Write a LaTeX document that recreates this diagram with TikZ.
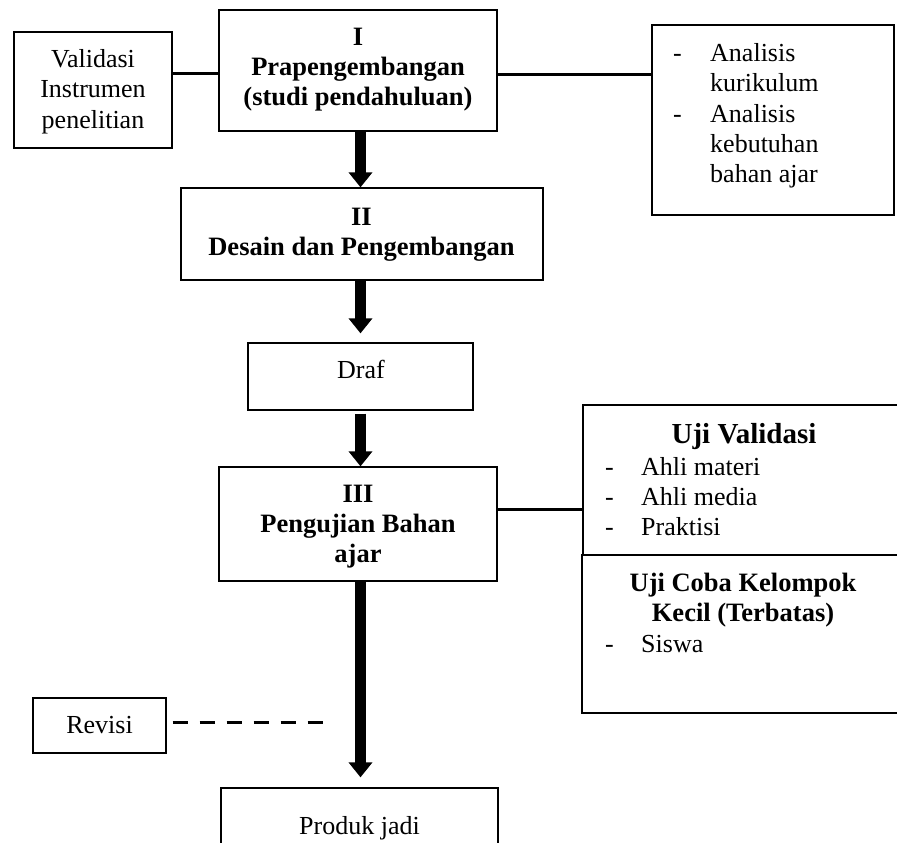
\documentclass[tikz,border=0pt]{standalone}
\usepackage{fontspec}
\setmainfont{Liberation Serif}
\usetikzlibrary{arrows.meta}
\begin{document}
\begin{tikzpicture}[x=1pt,y=-1pt,
  box/.style={draw, line width=1.3pt, inner sep=0pt},
  txt/.style={inner sep=0pt, font=\fontsize{26}{30}\selectfont},
  btxt/.style={inner sep=0pt, font=\fontsize{26.5}{30}\selectfont\bfseries},
  bigtxt/.style={inner sep=0pt, font=\fontsize{29}{33}\selectfont\bfseries},
  bigarrow/.style={line width=10.5pt, -{Triangle[width=23pt,length=15pt]}},
  link/.style={line width=3pt}]
\useasboundingbox (0,0) rectangle (897,843);
% boxes
\node[box, minimum width=158, minimum height=116] (val) at (93,90) {};
\node[box, minimum width=278, minimum height=121] (p1) at (358,70.5) {};
\node[box, minimum width=242, minimum height=190] (ana) at (773,120) {};
\node[box, minimum width=362, minimum height=92] (p2) at (362,234) {};
\node[box, minimum width=225, minimum height=67] (draf) at (360.5,376.5) {};
\node[box, minimum width=278, minimum height=114] (p3) at (358,524) {};
\node[box, minimum width=322, minimum height=150] (ujiv) at (744,480) {};
\node[box, minimum width=323, minimum height=158] (ujic) at (743.5,634) {};
\node[box, minimum width=133, minimum height=55] (rev) at (99.5,725.5) {};
\node[box, minimum width=277, minimum height=72] (produk) at (359.5,824) {};
% texts (multi-line nodes are anchored at the baseline of their last line)
\node[txt, align=center, anchor=base] (valt) at (93,128) {Validasi\\Instrumen\\penelitian};
\node[btxt, align=center, anchor=base] (p1t) at (358,106) {I\\Prapengembangan\\(studi pendahuluan)};
\node[txt, anchor=base west] (anad1) at (673,62) {-};
\node[txt, anchor=base west, align=left] (anat1) at (710,92) {Analisis\\kurikulum};
\node[txt, anchor=base west] (anad2) at (673,122) {-};
\node[txt, anchor=base west, align=left] (anat2) at (710,182) {Analisis\\kebutuhan\\bahan ajar};
\node[btxt, align=center, anchor=base] (p2t) at (361.5,255) {II\\Desain dan Pengembangan};
\node[txt, anchor=base] (draft) at (361,378) {Draf};
\node[btxt, align=center, anchor=base] (p3t) at (358,562) {III\\Pengujian Bahan\\ajar};
\node[bigtxt, anchor=base] (ujivt) at (744,443) {Uji Validasi};
\node[txt, anchor=base west] (uvd1) at (605,475) {-};
\node[txt, anchor=base west] (uvt1) at (641,475) {Ahli materi};
\node[txt, anchor=base west] (uvd2) at (605,505) {-};
\node[txt, anchor=base west] (uvt2) at (641,505) {Ahli media};
\node[txt, anchor=base west] (uvd3) at (605,535) {-};
\node[txt, anchor=base west] (uvt3) at (641,535) {Praktisi};
\node[btxt, align=center, anchor=base] (ujict) at (743,621) {Uji Coba Kelompok\\Kecil (Terbatas)};
\node[txt, anchor=base west] (ucd1) at (605,652) {-};
\node[txt, anchor=base west] (uct1) at (641,652) {Siswa};
\node[txt, anchor=base] (revt) at (99.5,733) {Revisi};
\node[txt, anchor=base] (prodt) at (359.5,834) {Produk jadi};
% connectors
\coordinate (colx) at (360.5,0);
\draw[bigarrow] (p1.south -| colx) -- (p2.north -| colx);
\draw[bigarrow, shorten >=9pt] (p2.south -| colx) -- (draf.north -| colx);
\draw[bigarrow, shorten <=3pt] (draf.south -| colx) -- (p3.north -| colx);
\draw[bigarrow, shorten >=10pt] (p3.south -| colx) -- (produk.north -| colx);
\coordinate (ya) at (0,74);
\coordinate (yb) at (0,75);
\coordinate (yc) at (0,509.5);
\draw[link] (val.east |- ya) -- (p1.west |- ya);
\draw[link] (p1.east |- yb) -- (ana.west |- yb);
\draw[link] (p3.east |- yc) -- (ujiv.west |- yc);
\coordinate (dashend) at (326,722);
\draw[link, dash pattern=on 15pt off 12pt, shorten <=6pt] (rev.east |- dashend) -- (dashend);
\end{tikzpicture}
\end{document}
